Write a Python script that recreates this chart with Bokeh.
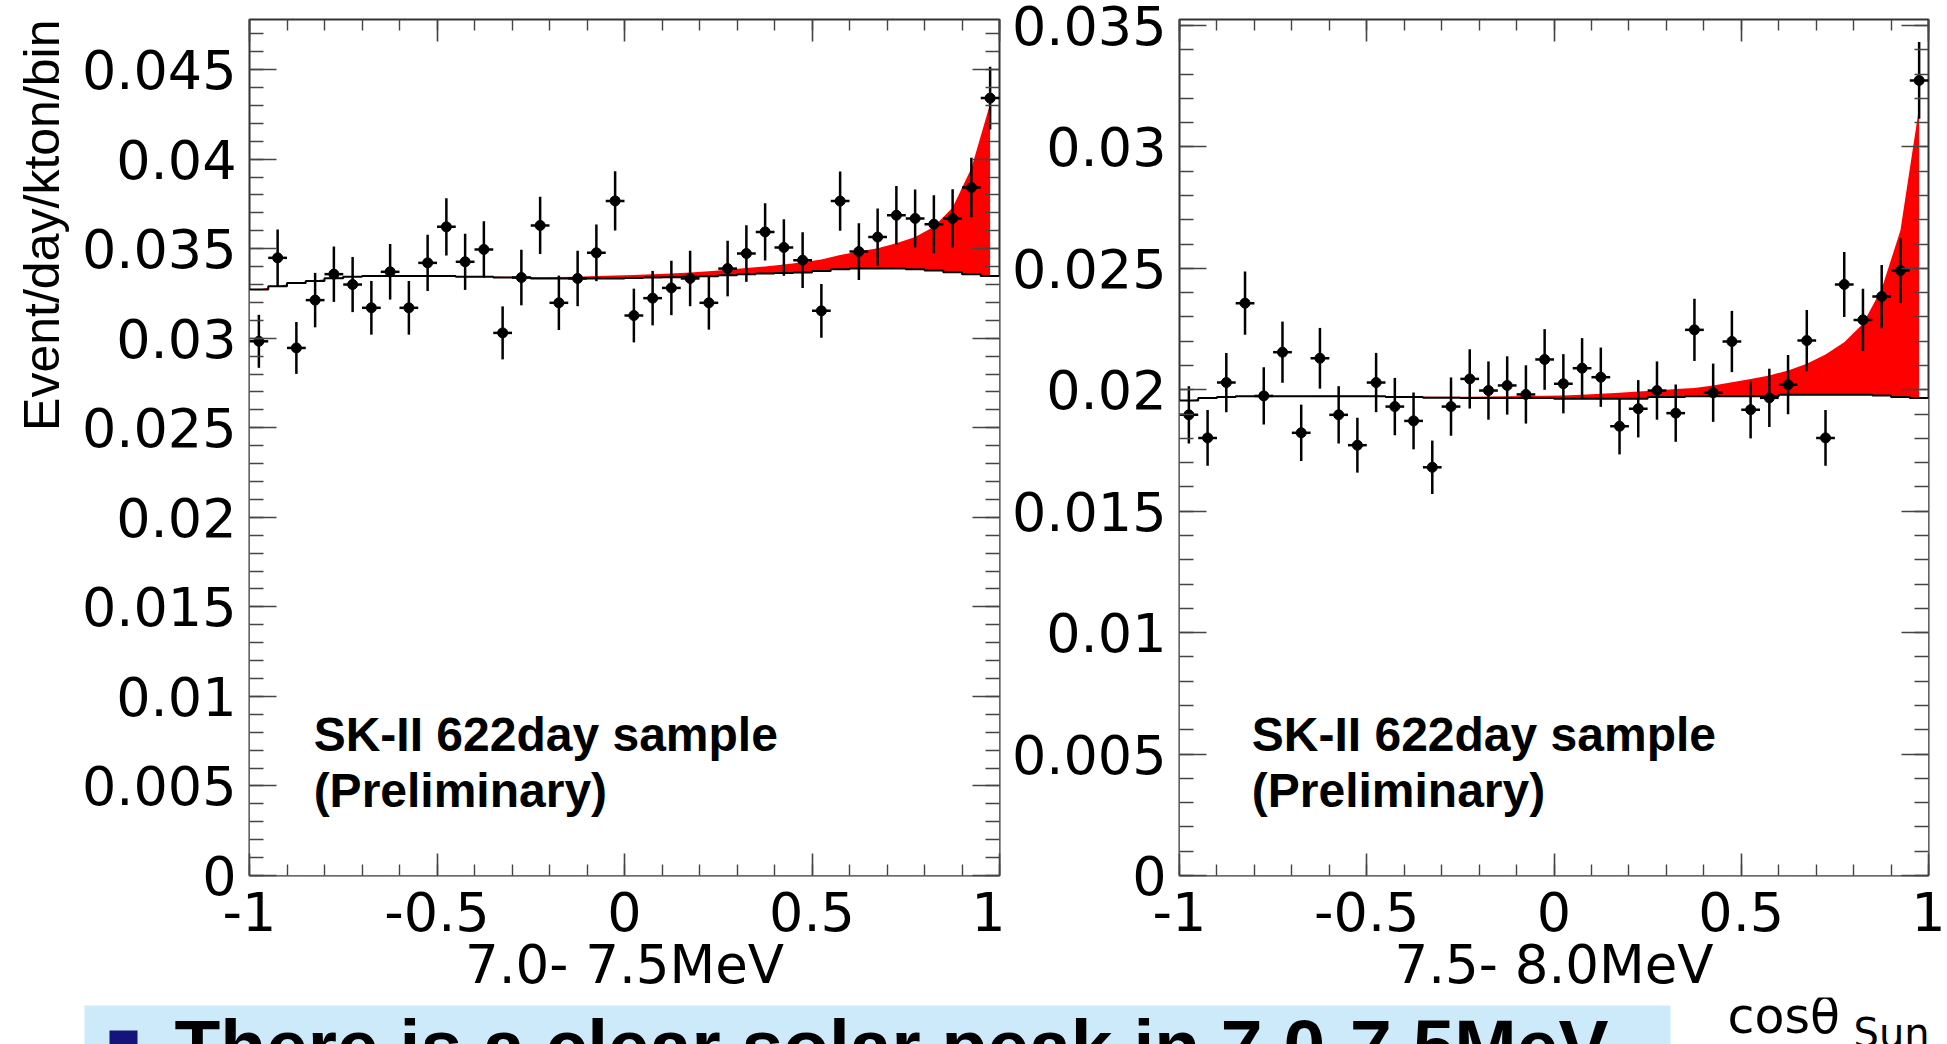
import numpy as np
from bokeh.plotting import figure
from bokeh.layouts import column, row
from bokeh.models import (Range1d, LinearAxis, SingleIntervalTicker,
                          NumeralTickFormatter, Label, BoxAnnotation, Title)
from bokeh.embed import file_html
from bokeh.resources import INLINE

# ---------------- data ----------------
N_BINS = 40
X_MIN, X_MAX = -1.0, 1.0

# 7.0 - 7.5 MeV
left_data = [0.02983, 0.03449, 0.02946, 0.03213, 0.03358, 0.03300, 0.03170, 0.03371, 0.03170, 0.03421,
             0.03622, 0.03427, 0.03496, 0.03030, 0.03339, 0.03630, 0.03198, 0.03334, 0.03477, 0.03767,
             0.03127, 0.03224, 0.03281, 0.03334, 0.03198, 0.03389, 0.03473, 0.03594, 0.03507, 0.03436,
             0.03153, 0.03766, 0.03484, 0.03565, 0.03687, 0.03669, 0.03637, 0.03669, 0.03842, 0.04341]
left_err = [0.00148, 0.00158, 0.00145, 0.00152, 0.00155, 0.00154, 0.00150, 0.00155, 0.00150, 0.00157,
            0.00160, 0.00157, 0.00158, 0.00148, 0.00155, 0.00160, 0.00152, 0.00155, 0.00158, 0.00165,
            0.00150, 0.00152, 0.00152, 0.00155, 0.00150, 0.00155, 0.00158, 0.00160, 0.00158, 0.00156,
            0.00150, 0.00165, 0.00158, 0.00160, 0.00163, 0.00162, 0.00162, 0.00163, 0.00166, 0.00175]
left_bkg = [0.03272, 0.03291, 0.03309, 0.03320, 0.03335, 0.03343, 0.03347, 0.03347, 0.03347, 0.03347,
            0.03347, 0.03343, 0.03343, 0.03339, 0.03339, 0.03334, 0.03334, 0.03334, 0.03334, 0.03334,
            0.03337, 0.03339, 0.03341, 0.03343, 0.03346, 0.03352, 0.03358, 0.03361, 0.03365, 0.03367,
            0.03375, 0.03385, 0.03389, 0.03389, 0.03389, 0.03386, 0.03378, 0.03369, 0.03358, 0.03348]
left_total = [0.03272, 0.03292, 0.03310, 0.03322, 0.03336, 0.03344, 0.03348, 0.03349, 0.03349, 0.03349,
              0.03349, 0.03346, 0.03346, 0.03343, 0.03343, 0.03341, 0.03342, 0.03344, 0.03347, 0.03350,
              0.03353, 0.03357, 0.03361, 0.03367, 0.03374, 0.03383, 0.03392, 0.03401, 0.03412, 0.03424,
              0.03440, 0.03465, 0.03484, 0.03503, 0.03530, 0.03566, 0.03622, 0.03730, 0.03950, 0.04310]

# 7.5 - 8.0 MeV
right_data = [0.01897, 0.01802, 0.02030, 0.02357, 0.01975, 0.02155, 0.01823, 0.02130, 0.01897, 0.01772,
              0.02030, 0.01931, 0.01872, 0.01681, 0.01931, 0.02045, 0.01997, 0.02018, 0.01981, 0.02125,
              0.02025, 0.02089, 0.02052, 0.01850, 0.01922, 0.01997, 0.01904, 0.02247, 0.01988, 0.02199,
              0.01918, 0.01967, 0.02021, 0.02203, 0.01802, 0.02434, 0.02288, 0.02384, 0.02491, 0.03274]
right_err = [0.00118, 0.00115, 0.00122, 0.00130, 0.00118, 0.00126, 0.00116, 0.00125, 0.00118, 0.00113,
             0.00122, 0.00118, 0.00117, 0.00110, 0.00120, 0.00122, 0.00120, 0.00120, 0.00120, 0.00125,
             0.00122, 0.00124, 0.00122, 0.00116, 0.00118, 0.00120, 0.00118, 0.00128, 0.00120, 0.00126,
             0.00118, 0.00120, 0.00122, 0.00126, 0.00115, 0.00134, 0.00128, 0.00130, 0.00133, 0.00158]
right_bkg = [0.01956, 0.01966, 0.01970, 0.01974, 0.01974, 0.01974, 0.01974, 0.01974, 0.01974, 0.01974,
             0.01974, 0.01970, 0.01970, 0.01967, 0.01967, 0.01966, 0.01966, 0.01966, 0.01966, 0.01966,
             0.01963, 0.01963, 0.01963, 0.01963, 0.01963, 0.01970, 0.01970, 0.01974, 0.01974, 0.01974,
             0.01974, 0.01974, 0.01980, 0.01980, 0.01980, 0.01980, 0.01980, 0.01977, 0.01970, 0.01966]
right_total = [0.01956, 0.01967, 0.01971, 0.01975, 0.01975, 0.01975, 0.01975, 0.01976, 0.01976, 0.01976,
               0.01976, 0.01973, 0.01973, 0.01971, 0.01971, 0.01972, 0.01973, 0.01974, 0.01975, 0.01976,
               0.01977, 0.01980, 0.01984, 0.01988, 0.01993, 0.01997, 0.02003, 0.02008, 0.02018, 0.02031,
               0.02045, 0.02059, 0.02080, 0.02107, 0.02145, 0.02196, 0.02272, 0.02416, 0.02656, 0.03164]

left_title = "7.0- 7.5MeV"
right_title = "7.5- 8.0MeV"
y_title = "Event/day/kton/bin"
sample_lines = ["SK-II 622day sample", "(Preliminary)"]
bullet_text = "There is a clear solar peak in 7.0-7.5MeV"

# ---------------- helpers ----------------
TICK_FONT = "DejaVu Sans"
FRAME_COLOR = "#333333"
TICK_COLOR = "#444444"
TOP_H = 995  # height of the two panels


def style_axis(ax, tick_in, minor_in, show_labels, standoff):
    ax.axis_line_color = None
    ax.major_tick_in = tick_in
    ax.major_tick_out = 0
    ax.minor_tick_in = minor_in
    ax.minor_tick_out = 0
    ax.major_tick_line_color = TICK_COLOR
    ax.minor_tick_line_color = TICK_COLOR
    ax.major_tick_line_width = 1.6
    ax.minor_tick_line_width = 1.4
    ax.formatter = NumeralTickFormatter(format="0.[000]")
    if show_labels:
        ax.major_label_text_font = TICK_FONT
        ax.major_label_text_font_size = "54px"
        ax.major_label_text_color = "black"
        ax.major_label_standoff = standoff
    else:
        ax.major_label_text_color = None
        ax.major_label_text_font_size = "0px"
        ax.major_label_standoff = 0


def make_panel(y_end, border_left, border_right, frame_w, data, err, bkg, total, xtitle):
    p = figure(frame_width=frame_w, frame_height=856,
               min_border_left=border_left, min_border_right=border_right,
               min_border_top=19, min_border_bottom=TOP_H - 19 - 856,
               x_range=Range1d(X_MIN, X_MAX), y_range=Range1d(0, y_end),
               output_backend="svg", toolbar_location=None)
    p.grid.visible = False
    p.outline_line_color = FRAME_COLOR
    p.outline_line_width = 2
    p.background_fill_color = "white"
    p.border_fill_color = "white"

    xa = p.below[0]
    ya = p.left[0]
    xa.ticker = SingleIntervalTicker(interval=0.5, num_minor_ticks=5)
    ya.ticker = SingleIntervalTicker(interval=0.005, num_minor_ticks=5)
    style_axis(xa, 22, 11, True, 16)
    style_axis(ya, 27, 14, True, 13)
    top = LinearAxis(ticker=SingleIntervalTicker(interval=0.5, num_minor_ticks=5))
    right = LinearAxis(ticker=SingleIntervalTicker(interval=0.005, num_minor_ticks=5))
    style_axis(top, 22, 11, False, 0)
    style_axis(right, 27, 14, False, 0)
    p.add_layout(top, "above")
    p.add_layout(right, "right")

    xa.axis_label = xtitle
    xa.axis_label_text_font = TICK_FONT
    xa.axis_label_text_font_size = "53px"
    xa.axis_label_text_font_style = "normal"
    xa.axis_label_text_color = "black"
    xa.axis_label_standoff = 0

    edges = np.linspace(X_MIN, X_MAX, N_BINS + 1)
    centers = 0.5 * (edges[:-1] + edges[1:])
    d = np.array(data)
    e = np.array(err)
    b = list(bkg) + [bkg[-1]]

    # signal+background (smooth through bin centres), background covers it in white
    p.varea(x=centers, y1=np.zeros(N_BINS), y2=total, fill_color="#ff0000")
    p.varea_step(x=edges, y1=np.zeros(N_BINS + 1), y2=b, step_mode="after",
                 fill_color="white")
    p.step(x=edges, y=b, mode="after", line_color="black", line_width=2)

    # data points with errors
    p.segment(x0=centers, x1=centers, y0=d - e, y1=d + e, line_color="black", line_width=2.5)
    p.segment(x0=edges[:-1], x1=edges[1:], y0=d, y1=d, line_color="black", line_width=2.5)
    p.scatter(x=centers, y=d, size=10, marker="circle", color="black")
    return p


def add_label(p, text, x, y, size, font="DejaVu Sans", style="normal", align="left", angle=0.0):
    p.add_layout(Label(x=x, y=y, text=text, text_font=font, text_font_size=size,
                       text_font_style=style, text_align=align, text_baseline="alphabetic",
                       text_color="black", angle=angle))


# ---------------- panels ----------------
p1 = make_panel(0.0478, 249, 6, 750, left_data, left_err, left_bkg, left_total, left_title)
p2 = make_panel(0.03525, 174, 19, 749, right_data, right_err, right_bkg, right_total, right_title)

add_label(p1, sample_lines[0], -0.829, 0.00787, "48px", font="Liberation Sans", style="bold")
add_label(p1, sample_lines[1], -0.829, 0.00475, "48px", font="Liberation Sans", style="bold")
add_label(p2, sample_lines[0], -0.807, 0.00581, "48px", font="Liberation Sans", style="bold")
add_label(p2, sample_lines[1], -0.807, 0.00350, "48px", font="Liberation Sans", style="bold")

# y-axis title, right-aligned to the top of the frame as in the original
p1.add_layout(Title(text=y_title, align="right", vertical_align="top",
                    text_font="Liberation Sans", text_font_size="50px",
                    text_font_style="normal", text_color="black", standoff=14), "left")

# ---------------- bottom strip of the slide ----------------
STRIP_H = 1044 - TOP_H
p3 = figure(frame_width=1947, frame_height=STRIP_H, min_border_left=0, min_border_right=0,
            min_border_top=0, min_border_bottom=0,
            x_range=Range1d(0, 1947), y_range=Range1d(0, STRIP_H),
            x_axis_location=None, y_axis_location=None,
            output_backend="svg", toolbar_location=None)
p3.grid.visible = False
p3.outline_line_color = None
p3.background_fill_color = "white"
p3.border_fill_color = "white"
p3.add_layout(BoxAnnotation(left=84, right=1670, bottom=0, top=STRIP_H - 8,
                            fill_color="#cdeafb", fill_alpha=1.0, line_color=None))
p3.add_layout(BoxAnnotation(left=109, right=137, bottom=0, top=16, fill_color="#14147a",
                            fill_alpha=1.0, line_color=None))
add_label(p3, bullet_text, 174, 1, "75px", font="Liberation Sans", style="bold")
add_label(p3, "cos\u03b8", 1727, 30, "49px")
add_label(p3, "Sun", 1853, 14, "40px")

layout = column(row(p1, p2), p3)
open("out.html", "w").write(file_html(layout, INLINE))
